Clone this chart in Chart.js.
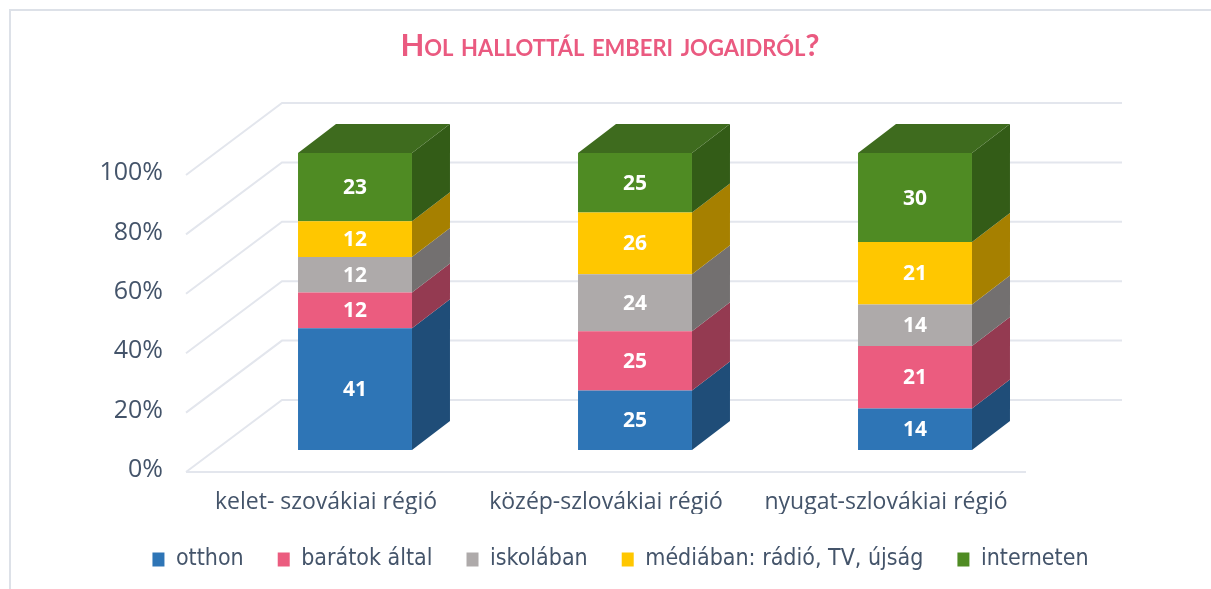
<!DOCTYPE html>
<html>
<head>
<meta charset="utf-8">
<script src="https://cdn.jsdelivr.net/npm/chart.js@4.4.0/dist/chart.umd.min.js"></script>
<style>
  html, body { margin: 0; padding: 0; background: #fff; }
  #wrap { width: 1211px; height: 589px; position: relative; }
</style>
</head>
<body>
<div id="wrap"><canvas id="grafica"></canvas></div>
<script>
const regiok = ['kelet- szovákiai régió', 'közép-szlovákiai régió', 'nyugat-szlovákiai régió']
const sorozatok = ['otthon', 'barátok által', 'iskolában', 'médiában: rádió, TV, újság', 'interneten']
const otthon = [41, 25, 14]
const baratok = [12, 25, 21]
const iskolaban = [12, 24, 14]
const mediaban = [12, 26, 21]
const interneten = [23, 25, 30]
const yTicks = [0, 20, 40, 60, 80, 100]

const szinek = ['#2e75b6', '#eb5c7f', '#aeaaaa', '#ffc700', '#4f8b23']
const oldalSzinek = ['#1f4d78', '#943a51', '#737070', '#a68000', '#335c17']
const tetoSzin = '#3e6b1e'
const szovegSzin = '#44546a'

const ertekek = [otthon, baratok, iskolaban, mediaban, interneten]
// 100%-os halmozás: minden régió összege
const osszegek = regiok.map((_, i) => ertekek.reduce((s, sor) => s + sor[i], 0))

// 3D eltolások (px)
const MELY_X = 38, MELY_Y = -29
const ELO_X = -29, ELO_Y = 22
const HATSO_X = 67, HATSO_Y = -50

const abra3d = {
    id: 'abra3d',
    beforeDraw(chart) {
        const { ctx, chartArea: a, scales: { y } } = chart
        ctx.save()
        // keret
        ctx.strokeStyle = '#dde1e8'
        ctx.lineWidth = 2
        ctx.beginPath()
        ctx.moveTo(10, 589); ctx.lineTo(10, 10); ctx.lineTo(1211, 10)
        ctx.stroke()

        // cím
        ctx.fillStyle = '#ea5a80'
        ctx.font = 'small-caps bold 31px Lato'
        ctx.textAlign = 'center'
        ctx.textBaseline = 'middle'
        ctx.fillText('Hol hallottál emberi jogaidról?', 610, 46)

        // rácsvonalak
        ctx.strokeStyle = '#e3e6ed'
        ctx.lineWidth = 2
        yTicks.forEach(v => {
            const py = y.getPixelForValue(v)
            ctx.beginPath()
            ctx.moveTo(a.left + ELO_X, py + ELO_Y)
            ctx.lineTo(a.left + HATSO_X, py + HATSO_Y)
            ctx.lineTo(a.right + HATSO_X, py + HATSO_Y)
            ctx.stroke()
        })
        const p0 = y.getPixelForValue(0)
        ctx.beginPath()
        ctx.moveTo(a.left + ELO_X, p0 + ELO_Y)
        ctx.lineTo(a.right + ELO_X, p0 + ELO_Y)
        ctx.stroke()
        ctx.restore()
    },
    afterDatasetsDraw(chart) {
        const { ctx } = chart
        const utolso = chart.data.datasets.length - 1
        ctx.save()
        chart.data.datasets.forEach((ds, di) => {
            chart.getDatasetMeta(di).data.forEach((bar, i) => {
                const { x, y, base, width } = bar.getProps(['x', 'y', 'base', 'width'], true)
                const l = x - width / 2, r = x + width / 2
                ctx.fillStyle = oldalSzinek[di]
                ctx.beginPath()
                ctx.moveTo(r, y)
                ctx.lineTo(r + MELY_X, y + MELY_Y)
                ctx.lineTo(r + MELY_X, base + MELY_Y)
                ctx.lineTo(r, base)
                ctx.closePath()
                ctx.fill()
                if (di === utolso) {
                    ctx.fillStyle = tetoSzin
                    ctx.beginPath()
                    ctx.moveTo(l, y)
                    ctx.lineTo(l + MELY_X, y + MELY_Y)
                    ctx.lineTo(r + MELY_X, y + MELY_Y)
                    ctx.lineTo(r, y)
                    ctx.closePath()
                    ctx.fill()
                }
                ctx.fillStyle = '#ffffff'
                ctx.font = 'bold 21px "Noto Sans"'
                ctx.textAlign = 'center'
                ctx.textBaseline = 'middle'
                ctx.fillText(ertekek[di][i], x, (y + base) / 2 + 1)
            })
        })
        ctx.restore()
    }
}

const grafica = new Chart(document.getElementById('grafica'), {
    type: 'bar',
    data: {
        labels: regiok,
        datasets: sorozatok.map((nev, di) => ({
            label: nev,
            data: ertekek[di].map((v, i) => v / osszegek[i] * 100),
            backgroundColor: szinek[di],
            borderWidth: 0,
            barPercentage: 0.407,
            categoryPercentage: 1
        }))
    },
    options: {
        responsive: true,
        maintainAspectRatio: false,
        animation: false,
        events: [],
        layout: {
            padding: { left: 30, right: 0, top: 153, bottom: 8 }
        },
        scales: {
            x: {
                stacked: true,
                grid: { display: false, drawTicks: false },
                border: { display: false },
                ticks: {
                    color: szovegSzin,
                    font: { family: '"Open Sans"', size: 23 },
                    labelOffset: ELO_X,
                    padding: 39
                },
                afterFit: (s) => { s.height = 64 }
            },
            y: {
                stacked: true,
                min: 0,
                max: 100,
                grid: { display: false, drawTicks: false },
                border: { display: false },
                ticks: {
                    stepSize: 20,
                    color: szovegSzin,
                    font: { family: '"Open Sans"', size: 25 },
                    labelOffset: 20,
                    padding: 52,
                    callback: v => v + '%'
                },
                afterFit: (s) => { s.width = 185 }
            },
            jobb: {
                position: 'right',
                grid: { display: false, drawTicks: false },
                border: { display: false },
                ticks: { display: false },
                afterFit: (s) => { s.width = 156 }
            }
        },
        plugins: {
            title: { display: false },
            tooltip: { enabled: false },
            legend: {
                position: 'bottom',
                labels: {
                    boxWidth: 12,
                    boxHeight: 14,
                    padding: 34,
                    color: szovegSzin,
                    font: { family: '"Liberation Sans Narrow", "DejaVu Sans Condensed", sans-serif', size: 23 }
                }
            }
        }
    },
    plugins: [abra3d]
})
</script>
</body>
</html>
